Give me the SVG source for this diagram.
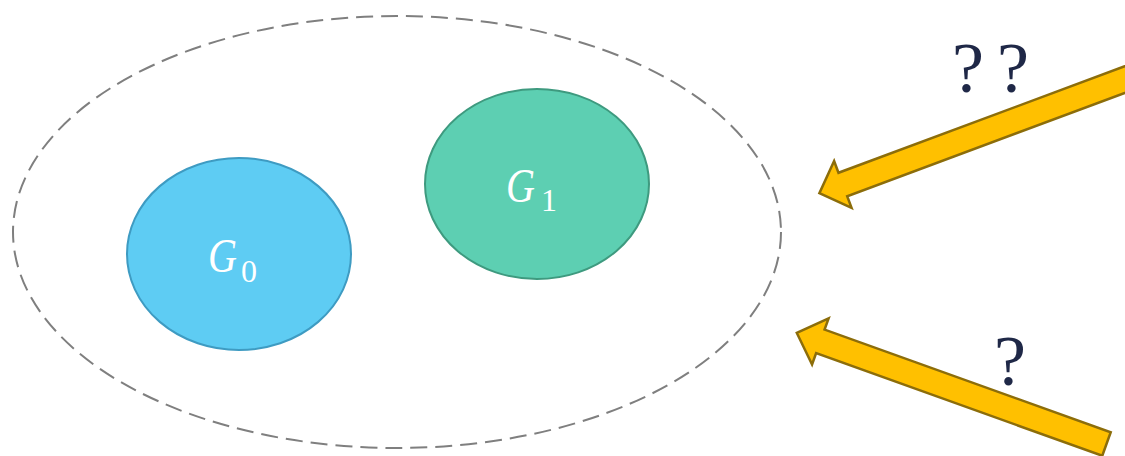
<svg xmlns="http://www.w3.org/2000/svg" width="1125" height="456" viewBox="0 0 1125 456">
<style>
.lbl{font-family:"Liberation Serif",serif;font-style:italic;fill:#ffffff}
.sub{font-family:"Liberation Serif",serif;font-style:normal;fill:#ffffff}
.q{font-family:"Liberation Serif",serif;fill:#1f2847;font-size:72px}
.arr{fill:#FFC000;stroke:#8C6D0A;stroke-width:2.5;stroke-linejoin:miter}
</style>
<rect width="1125" height="456" fill="#ffffff"/>
<g id="boundary">
<ellipse cx="397" cy="232" rx="384" ry="216" fill="none" stroke="#7f7f7f" stroke-width="2" stroke-dasharray="17 8"/>
</g>
<g id="G0">
<ellipse cx="239" cy="254" rx="112" ry="96" fill="#5ECCF3" stroke="#3E9BC2" stroke-width="2"/>
<text class="lbl" x="208" y="272" font-size="48" textLength="29" lengthAdjust="spacingAndGlyphs">G</text>
<text class="sub" x="241" y="282" font-size="32">0</text>
</g>
<g id="G1">
<ellipse cx="537" cy="184" rx="112" ry="95" fill="#5DCFB2" stroke="#3E9A7F" stroke-width="2"/>
<text class="lbl" x="506" y="202" font-size="48" textLength="29" lengthAdjust="spacingAndGlyphs">G</text>
<text class="sub" x="541" y="211" font-size="32">1</text>
</g>
<g id="connectors">
<polygon class="arr" transform="translate(1139,74.3) rotate(159.59)" points="0,-12.5 316,-12.5 316,-25 341,0 316,25 316,12.5 0,12.5"/>
<polygon class="arr" transform="translate(1106.5,444) rotate(-160.27)" points="0,-12.5 304,-12.5 304,-24.5 329,0 304,24.5 304,12.5 0,12.5"/>
</g>
<g id="labels">
<text class="q" x="952" y="92">?</text>
<text class="q" x="997" y="92">?</text>
<text class="q" x="994" y="385">?</text>
</g>
</svg>
